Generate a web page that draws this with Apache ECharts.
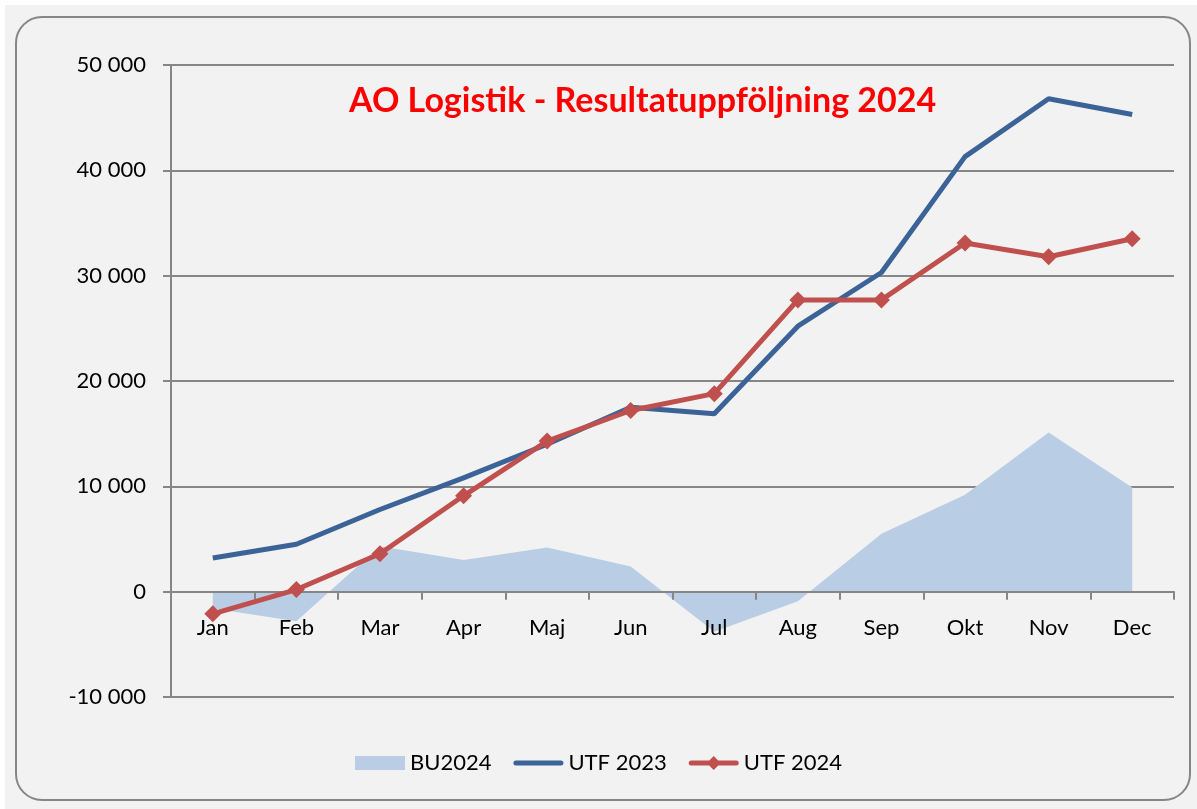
<!DOCTYPE html>
<html>
<head>
<meta charset="utf-8">
<script src="https://cdn.jsdelivr.net/npm/echarts@6/dist/echarts.min.js"></script>
<style>
  html, body { margin: 0; padding: 0; background: #fff; }
  #main { width: 1197px; height: 809px; }
</style>
</head>
<body>
<div id="main"></div>
<script>
const months = ['Jan', 'Feb', 'Mar', 'Apr', 'Maj', 'Jun', 'Jul', 'Aug', 'Sep', 'Okt', 'Nov', 'Dec']
const bu2024 = [-1600, -2800, 4300, 3000, 4200, 2400, -3800, -900, 5500, 9200, 15100, 9900]
const utf2023 = [3200, 4500, 7800, 10800, 14000, 17500, 16900, 25200, 30300, 41300, 46800, 45300]
const utf2024 = [-2100, 200, 3600, 9100, 14300, 17200, 18800, 27700, 27700, 33100, 31800, 33500]
const yTicks = { min: -10000, max: 50000, interval: 10000 }

const font = 'Lato'
const fmt = v => {
  const s = String(Math.abs(v)).replace(/\B(?=(\d{3})+(?!\d))/g, ' ')
  return (v < 0 ? '-' : '') + s
}

// legend icons: plain bar, bar with diamond
const barIcon = 'path://M2.5,4.5 L47.5,4.5 A2.5,2.5 0 0 1 47.5,9.5 L2.5,9.5 A2.5,2.5 0 0 1 2.5,4.5 Z'
const diamondIcon = 'path://M2.5,4.5 L20.5,4.5 L25,0 L29.5,4.5 L47.5,4.5 A2.5,2.5 0 0 1 47.5,9.5 L29.5,9.5 L25,14 L20.5,9.5 L2.5,9.5 A2.5,2.5 0 0 1 2.5,4.5 Z'

const myChart = echarts.init(document.getElementById('main'))
myChart.setOption({
  backgroundColor: '#fff',
  animation: false,
  graphic: [
    { type: 'rect', z: -10, shape: { x: 5, y: 5, width: 1192, height: 804 }, style: { fill: '#f2f2f2' } },
    { type: 'rect', z: -9, shape: { x: 16, y: 17, width: 1174, height: 783, r: 26 },
      style: { fill: 'none', stroke: '#868686', lineWidth: 2 } }
  ],
  title: {
    text: 'AO Logistik - Resultatuppföljning 2024',
    left: 344, top: 79,
    textStyle: { color: '#ff0000', fontFamily: font, fontWeight: 'bold', fontSize: 34 }
  },
  grid: { left: 171, right: 23, top: 65, bottom: 112 },
  legend: {
    bottom: 30, left: 'center',
    itemWidth: 50, itemHeight: 14, itemGap: 22,
    symbolKeepAspect: true,
    textStyle: { fontFamily: font, fontSize: 22, color: '#000' },
    data: [
      { name: 'BU2024', icon: 'rect' },
      { name: 'UTF 2023', icon: barIcon },
      { name: 'UTF 2024', icon: diamondIcon }
    ]
  },
  xAxis: {
    type: 'category',
    data: months,
    boundaryGap: true,
    z: 3,
    axisLine: { onZero: true, lineStyle: { color: '#868686', width: 2 } },
    axisTick: { show: true, length: 8, lineStyle: { color: '#868686', width: 2 } },
    axisLabel: { fontFamily: font, fontSize: 22, color: '#000', margin: -80 }
  },
  yAxis: {
    type: 'value',
    min: yTicks.min, max: yTicks.max, interval: yTicks.interval,
    axisLine: { show: true, lineStyle: { color: '#868686', width: 2 } },
    axisTick: { show: true, length: 8, lineStyle: { color: '#868686', width: 2 } },
    splitLine: { lineStyle: { color: '#868686', width: 2 } },
    axisLabel: { fontFamily: font, fontSize: 22, color: '#000', margin: 25, formatter: fmt }
  },
  series: [
    {
      name: 'BU2024', type: 'line', data: bu2024,
      symbol: 'none', color: '#b9cde5',
      lineStyle: { width: 0 },
      areaStyle: { color: '#b9cde5', opacity: 1 },
      z: 1
    },
    {
      name: 'UTF 2023', type: 'line', data: utf2023,
      symbol: 'none', color: '#3b6398',
      lineStyle: { width: 5, color: '#3b6398' },
      z: 4
    },
    {
      name: 'UTF 2024', type: 'line', data: utf2024,
      symbol: 'diamond', symbolSize: 17, color: '#c0504d',
      lineStyle: { width: 5, color: '#c0504d' },
      itemStyle: { color: '#c0504d' },
      z: 5
    }
  ]
})
</script>
</body>
</html>
